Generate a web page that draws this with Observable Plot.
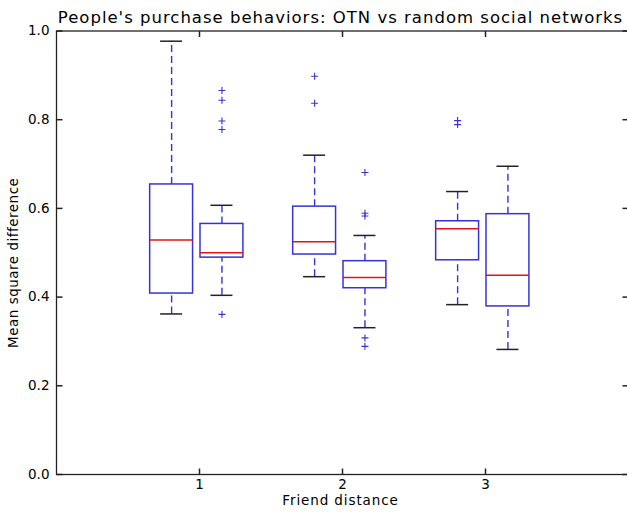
<!DOCTYPE html>
<html>
<head>
<meta charset="utf-8">
<script src="https://cdn.jsdelivr.net/npm/d3@7"></script>
<script src="https://cdn.jsdelivr.net/npm/@observablehq/plot@0.6"></script>
<style>
  html, body { margin: 0; padding: 0; background: #fff; overflow: hidden; }
  #chart svg { font-family: "DejaVu Sans", sans-serif; }
</style>
</head>
<body>
<div id="chart"></div>
<script>
// Friend distances on the x axis and the two network types compared at each one
const distances = [1, 2, 3];
const networks = ["OTN", "Random"];

// Box statistics, one entry per box: (d1 OTN, d1 Random, d2 OTN, d2 Random, d3 OTN, d3 Random)
const boxDistance = [1, 1, 2, 2, 3, 3];
const boxNetwork = ["OTN", "Random", "OTN", "Random", "OTN", "Random"];
const whiskerLow = [0.362, 0.404, 0.446, 0.331, 0.383, 0.282];
const quartile1 = [0.408, 0.489, 0.496, 0.420, 0.483, 0.379];
const median = [0.529, 0.500, 0.525, 0.444, 0.554, 0.449];
const quartile3 = [0.654, 0.565, 0.604, 0.481, 0.571, 0.587];
const whiskerHigh = [0.977, 0.607, 0.720, 0.539, 0.638, 0.695];

// Outlying observations (fliers)
const outlierDistance = [1, 1, 1, 1, 1, 2, 2, 2, 2, 2, 2, 2, 3, 3];
const outlierNetwork = ["Random", "Random", "Random", "Random", "Random",
  "OTN", "OTN", "Random", "Random", "Random", "Random", "Random", "OTN", "OTN"];
const outlierValue = [0.866, 0.844, 0.797, 0.778, 0.361,
  0.898, 0.837, 0.681, 0.589, 0.583, 0.308, 0.289, 0.798, 0.789];

// Axis ticks
const xTicks = [1, 2, 3];
const yTicks = [0, 0.2, 0.4, 0.6, 0.8, 1.0];

// Texts
const titleText = "People's purchase behaviors: OTN vs random social networks";
const xLabel = "Friend distance";
const yLabel = "Mean square difference";

// Layout of the boxes within each distance group
const offset = {OTN: -0.195, Random: 0.157};
const halfBox = 0.15;
const halfCap = 0.077;

const boxes = boxDistance.map((d, i) => ({
  pos: d + offset[boxNetwork[i]],
  lo: whiskerLow[i], q1: quartile1[i], med: median[i], q3: quartile3[i], hi: whiskerHigh[i]
}));
const fliers = outlierValue.map((v, i) => ({pos: outlierDistance[i] + offset[outlierNetwork[i]], v}));

const blue = "#3434d6";
const red = "#e01515";
const ink = "#222";

// Short inward tick marks drawn as custom dot symbols
const seg = (dx, dy) => ({draw(ctx) { ctx.moveTo(0, 0); ctx.lineTo(dx, dy); }});
const plusSymbol = {draw(ctx) { ctx.moveTo(-3.5, 0); ctx.lineTo(3.5, 0); ctx.moveTo(0, -3.5); ctx.lineTo(0, 3.5); }};

const chart = Plot.plot({
  width: 627,
  height: 512,
  marginLeft: 56,
  marginRight: -1,
  marginTop: 30.5,
  marginBottom: 38,
  style: {fontSize: "13.5px", fontFamily: "DejaVu Sans, sans-serif", color: "#000", background: "#fff"},
  x: {domain: [0, 4]},
  y: {domain: [0, 1]},
  marks: [
    // whiskers
    Plot.ruleX(boxes, {x: "pos", y1: "q3", y2: "hi", stroke: blue, strokeWidth: 1.4, strokeDasharray: "7,4"}),
    Plot.ruleX(boxes, {x: "pos", y1: "lo", y2: "q1", stroke: blue, strokeWidth: 1.4, strokeDasharray: "7,4"}),
    // caps
    Plot.ruleY(boxes, {y: "hi", x1: d => d.pos - halfCap, x2: d => d.pos + halfCap, stroke: ink, strokeWidth: 1.5}),
    Plot.ruleY(boxes, {y: "lo", x1: d => d.pos - halfCap, x2: d => d.pos + halfCap, stroke: ink, strokeWidth: 1.5}),
    // boxes
    Plot.rect(boxes, {x1: d => d.pos - halfBox, x2: d => d.pos + halfBox, y1: "q1", y2: "q3", fill: "white", stroke: blue, strokeWidth: 1.5}),
    // medians
    Plot.ruleY(boxes, {y: "med", x1: d => d.pos - halfBox, x2: d => d.pos + halfBox, stroke: red, strokeWidth: 1.5}),
    // outliers
    Plot.dot(fliers, {x: "pos", y: "v", symbol: plusSymbol, fill: "none", stroke: blue, strokeWidth: 1.1}),
    // frame and inward ticks
    Plot.frame({stroke: ink, strokeWidth: 1.3}),
    Plot.dot(yTicks, {y: d => d, frameAnchor: "left", symbol: seg(6, 0), fill: "none", stroke: ink}),
    Plot.dot(yTicks, {y: d => d, frameAnchor: "right", symbol: seg(-6, 0), fill: "none", stroke: ink}),
    Plot.dot(xTicks, {x: d => d, frameAnchor: "bottom", symbol: seg(0, -6), fill: "none", stroke: ink}),
    Plot.dot(xTicks, {x: d => d, frameAnchor: "top", symbol: seg(0, 6), fill: "none", stroke: ink}),
    // tick labels
    Plot.axisY(yTicks, {tickSize: 0, tickPadding: 7, tickFormat: d3.format(".1f"), label: null, fontSize: 13.5}),
    Plot.axisX(xTicks, {tickSize: 0, tickPadding: 5, tickFormat: d => String(d), label: null, fontSize: 13.5}),
    // titles
    Plot.text([titleText], {frameAnchor: "top", dy: -8, dx: -2, lineAnchor: "bottom", fontSize: 16.5, fill: "#000"}),
    Plot.text([xLabel], {frameAnchor: "bottom", dy: 21, dx: -2, lineAnchor: "top", fontSize: 13.5, fill: "#000"}),
    Plot.text([yLabel], {frameAnchor: "left", textAnchor: "middle", dx: -43, dy: 10, rotate: -90, fontSize: 13.5, fill: "#000"})
  ]
});

// Slightly wider glyph spacing for the title and axis labels
d3.select(chart).selectAll("text").each(function() {
  const t = this.textContent;
  if (t === titleText) this.style.letterSpacing = "1px";
  else if (t === xLabel) this.style.letterSpacing = "0.9px";
  else if (t === yLabel) this.style.letterSpacing = "0.5px";
});

document.getElementById("chart").append(chart);
</script>
</body>
</html>
